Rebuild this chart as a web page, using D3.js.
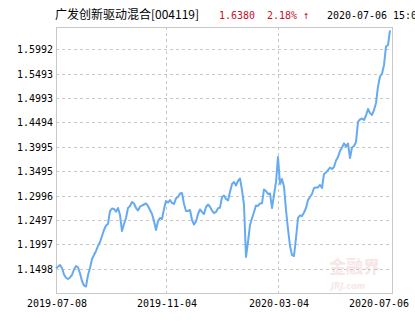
<!DOCTYPE html>
<html>
<head>
<meta charset="utf-8">
<script src="https://cdn.jsdelivr.net/npm/d3@7"></script>
<style>
body { margin: 0; background: #fff; overflow: hidden; }
</style>
</head>
<body>
<div id="chart"></div>
<script>
var width = 415;
var height = 330;

// fund header
var fundName = "广发创新驱动混合[004119]";
var lastNav = "1.6380";
var lastChange = "2.18% ↑";
var lastTime = "2020-07-06 15:00";

// x axis labels and the position (point index) they sit at
var xTickLabels = ["2019-07-08", "2019-11-04", "2020-03-04", "2020-07-06"];
var xTickIndex = [0, 55, 111, 167];

// y axis labels as printed
var yTickLabels = ["1.1498", "1.1997", "1.2497", "1.2996", "1.3495", "1.3995",
                   "1.4494", "1.4993", "1.5493", "1.5992"];

// unit nav
var navValues = [
  1.1506, 1.1539, 1.1574, 1.1512, 1.1379, 1.1313, 1.1287, 1.1318, 1.1369, 1.1481,
  1.1553, 1.1527, 1.1404, 1.1246, 1.1154, 1.1133, 1.1369, 1.1512, 1.1697, 1.1779,
  1.1861, 1.1963, 1.2045, 1.2168, 1.2291, 1.2383, 1.2414, 1.2680, 1.2731, 1.2721,
  1.2666, 1.2742, 1.2598, 1.2270, 1.2414, 1.2537, 1.2742, 1.2783, 1.2865, 1.2834,
  1.2742, 1.2690, 1.2768, 1.2793, 1.2813, 1.2834, 1.2783, 1.2701, 1.2619, 1.2475,
  1.2291, 1.2475, 1.2537, 1.2516, 1.2721, 1.2885, 1.2854, 1.2905, 1.2844, 1.2824,
  1.2940, 1.2967, 1.3039, 1.3049, 1.2824, 1.2680, 1.2680, 1.2701, 1.2496, 1.2404,
  1.2465, 1.2619, 1.2711, 1.2660, 1.2619, 1.2762, 1.2813, 1.2768, 1.2690, 1.2639,
  1.2660, 1.2735, 1.2748, 1.2967, 1.2998, 1.2926, 1.2895, 1.3069, 1.3233, 1.3274,
  1.3203, 1.3295, 1.3346, 1.3110, 1.2803, 1.1738, 1.2045, 1.2393, 1.2531, 1.2660,
  1.2793, 1.2783, 1.2834, 1.2838, 1.3121, 1.3090, 1.3028, 1.3039, 1.2742, 1.3008,
  1.3274, 1.3787, 1.3233, 1.3336, 1.3178, 1.2701, 1.2311, 1.1963, 1.1779, 1.1758,
  1.2127, 1.2537, 1.2588, 1.2578, 1.2649, 1.2742, 1.2905, 1.2967, 1.3028, 1.3151,
  1.3162, 1.3162, 1.3213, 1.3151, 1.3438, 1.3469, 1.3520, 1.3571, 1.3541, 1.3582,
  1.3715, 1.3787, 1.3909, 1.3981, 1.4067, 1.4002, 1.4063, 1.3766, 1.3981, 1.4012,
  1.4094, 1.4504, 1.4555, 1.4575, 1.4545, 1.4637, 1.4770, 1.4688, 1.4647, 1.4750,
  1.4893, 1.5227, 1.5436, 1.5493, 1.5672, 1.6051, 1.6081, 1.6380
];

var plot = { left: 56, right: 392, top: 27, bottom: 293 };
var numFont = "'DejaVu Sans Mono', 'Liberation Mono', monospace";
var cjkFont = "'Noto Sans CJK SC', 'Noto Sans', sans-serif";

var svg = d3.select("#chart").append("svg")
    .attr("width", width)
    .attr("height", height);

svg.append("rect").attr("width", width).attr("height", height).attr("fill", "#fff");

var x = d3.scaleLinear()
    .domain([0, navValues.length - 1])
    .range([plot.left, 390]);

var y = d3.scaleLinear()
    .domain([1.1, 1.645])
    .range([plot.bottom, plot.top]);

// watermark, very faint
svg.append("text")
    .attr("x", 329).attr("y", 273)
    .style("font", "bold 17px " + cjkFont)
    .attr("fill", "#f6e6e6")
    .text("金融界");
svg.append("text")
    .attr("x", 331).attr("y", 289)
    .style("font", "italic bold 8px 'DejaVu Sans', sans-serif")
    .attr("fill", "#f4e8e8")
    .text("JRJ.com");

// horizontal grid
svg.append("g")
    .selectAll("line")
    .data(yTickLabels)
    .enter()
    .append("line")
    .attr("x1", plot.left).attr("x2", plot.right)
    .attr("y1", d => Math.round(y(+d)) + 0.5)
    .attr("y2", d => Math.round(y(+d)) + 0.5)
    .attr("stroke", "#c8c8c8")
    .attr("stroke-dasharray", "3,3");

// vertical grid (inner date ticks only)
svg.append("g")
    .selectAll("line")
    .data(xTickIndex.slice(1, -1))
    .enter()
    .append("line")
    .attr("x1", d => Math.round(x(d)) + 0.5)
    .attr("x2", d => Math.round(x(d)) + 0.5)
    .attr("y1", plot.top).attr("y2", plot.bottom)
    .attr("stroke", "#c8c8c8")
    .attr("stroke-dasharray", "3,3");

// frame
svg.append("rect")
    .attr("x", plot.left + 0.5).attr("y", plot.top + 0.5)
    .attr("width", plot.right - plot.left).attr("height", plot.bottom - plot.top)
    .attr("fill", "none")
    .attr("stroke", "#c8c8c8");

// nav line
var line = d3.line()
    .x((d, i) => x(i))
    .y(d => y(d));

svg.append("path")
    .datum(navValues)
    .attr("d", line)
    .attr("fill", "none")
    .attr("stroke", "#66aaf0")
    .attr("stroke-width", 2)
    .attr("stroke-linejoin", "round");

// y labels
svg.append("g")
    .selectAll("text")
    .data(yTickLabels)
    .enter()
    .append("text")
    .attr("x", 53)
    .attr("y", d => Math.round(y(+d)) + 4)
    .attr("text-anchor", "end")
    .attr("textLength", d => d.length * 6)
    .attr("lengthAdjust", "spacingAndGlyphs")
    .style("font", "11px " + numFont)
    .attr("fill", "#000")
    .text(d => d);

// x labels, the last one is pulled in so it stays on the page
svg.append("g")
    .selectAll("text")
    .data(xTickLabels)
    .enter()
    .append("text")
    .attr("x", (d, i) => {
        var w = d.length * 6;
        var cx = x(xTickIndex[i]) + 1;
        return Math.min(cx - w / 2, width - 6 - w);
    })
    .attr("y", 307)
    .attr("textLength", d => d.length * 6)
    .attr("lengthAdjust", "spacingAndGlyphs")
    .style("font", "11px " + numFont)
    .attr("fill", "#000")
    .text(d => d);

// header
svg.append("text")
    .attr("x", 55).attr("y", 19)
    .attr("textLength", 144)
    .attr("lengthAdjust", "spacingAndGlyphs")
    .style("font", "12px " + cjkFont)
    .attr("fill", "#000")
    .text(fundName);
svg.append("text")
    .attr("x", 219).attr("y", 19)
    .attr("textLength", lastNav.length * 6)
    .attr("lengthAdjust", "spacingAndGlyphs")
    .style("font", "11px " + numFont)
    .attr("fill", "#c8102e")
    .text(lastNav);
svg.append("text")
    .attr("x", 267).attr("y", 19)
    .attr("textLength", 42)
    .attr("lengthAdjust", "spacingAndGlyphs")
    .style("font", "11px " + numFont)
    .attr("fill", "#c8102e")
    .text(lastChange);
svg.append("text")
    .attr("x", 327).attr("y", 19)
    .attr("textLength", lastTime.length * 6)
    .attr("lengthAdjust", "spacingAndGlyphs")
    .style("font", "11px " + numFont)
    .attr("fill", "#000")
    .text(lastTime);
</script>
</body>
</html>
